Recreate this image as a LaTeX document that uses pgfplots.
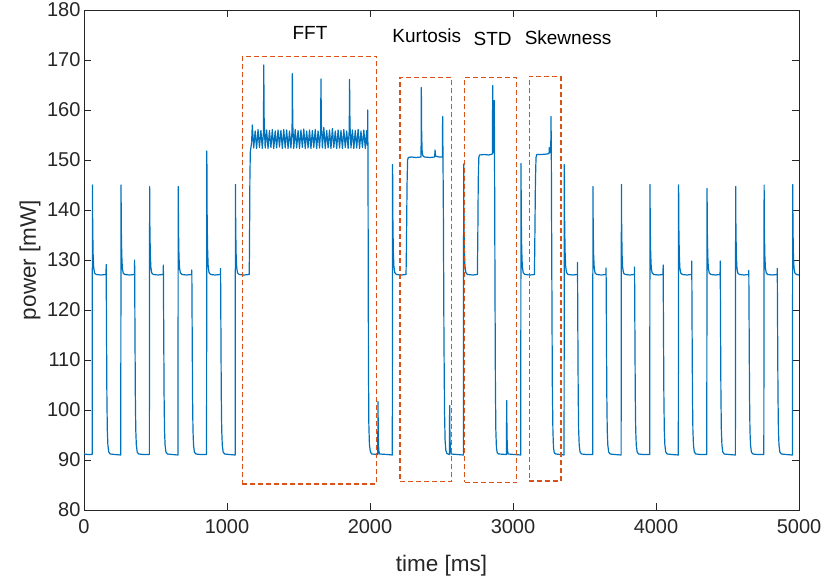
\documentclass[border=0pt]{standalone}
\usepackage{fontspec}
\setmainfont{Liberation Sans}
\usepackage{pgfplots}
\pgfplotsset{compat=1.18}
\definecolor{mblue}{HTML}{0072BD}
\definecolor{mred}{HTML}{D95319}
\definecolor{axgray}{HTML}{262626}
\begin{document}
\begin{tikzpicture}[x=1pt,y=1pt]
\useasboundingbox (0,0) rectangle (824,585);
\begin{axis}[
  at={(84pt,75pt)}, anchor=south west,
  scale only axis, width=715pt, height=500pt,
  xmin=0, xmax=5000, ymin=80, ymax=180,
  xtick={0,1000,...,5000}, ytick={80,90,...,180},
  tick align=inside, major tick length=7pt,
  axis line style={axgray, line width=0.8pt},
  tick style={axgray, line width=0.8pt},
  ticklabel style={font=\fontsize{20}{24}\selectfont, text=axgray},
  xticklabel style={yshift=-6pt},
  /pgf/number format/assume math mode=true,
  /pgf/number format/1000 sep={},
  xlabel={time [ms]}, ylabel={power [mW]},
  label style={font=\fontsize{22.5}{26}\selectfont, text=axgray},
  xlabel style={at={(axis description cs:0.5,-0.112)}, anchor=center},
  ylabel style={at={(axis description cs:-0.0755,0.5)}, anchor=center},
  clip=false,
]
\addplot[mblue, line width=1.2pt, line join=round] coordinates {
(0,91.2) (30,91.1)
(57,91.1) (59,145.0) (61,136.0) (64,131.0) (68,128.4) (74,127.4) (85,127.1) (117,127.0) (154,127.1) (155,129.1) (157,118) (160,103) (163,96) (167,93) (173,91.6) (183,91.2) (215,91.1)
(257,91.0) (259,145.0) (261,136.0) (264,131.0) (268,128.4) (274,127.4) (285,127.1) (317,127.0) (353,127.1) (354,130.0) (356,118) (359,103) (362,96) (366,93) (372,91.6) (382,91.2) (414,91.1)
(457,91.1) (459,144.7) (461,135.9) (464,130.9) (468,128.4) (474,127.4) (485,127.1) (517,127.0) (554,127.1) (555,129.0) (557,118) (560,103) (563,96) (567,93) (573,91.6) (583,91.2) (615,91.1)
(657,91.0) (659,144.7) (661,135.9) (664,130.9) (668,128.4) (674,127.4) (685,127.1) (717,127.0) (753,127.1) (754,128.0) (756,118) (759,103) (762,96) (766,93) (772,91.6) (782,91.2) (814,91.1)
(857,91.1) (859,151.8) (861,139.4) (864,132.5) (868,129.0) (874,127.5) (885,127.1) (917,127.0) (954,127.1) (955,128.3) (957,118) (960,103) (963,96) (967,93) (973,91.6) (983,91.2) (1015,91.1)
(1057,91.0) (1059,145.1) (1061,136.1) (1064,131.0) (1068,128.4) (1074,127.4) (1085,127.1) (1117,127.0) (1155,127.1)
(1157,131) (1160,146) (1163,151.6) (1168,152.6) (1172,153.5)
(1177,157.0) (1187,152.4) (1197,155.8) (1207,152.3) (1217,156.1) (1227,152.5) (1237,155.9) (1247,152.3)
(1255,155.6) (1257,169.0) (1260,157.5) (1267,152.4)
(1277,156.0) (1287,152.3) (1297,155.9) (1307,152.5) (1317,156.1) (1327,152.3) (1337,155.8) (1347,152.4)
(1357,156.0) (1367,152.6) (1377,155.9) (1387,152.3) (1397,156.1) (1407,152.4) (1417,156.0) (1427,152.3)
(1437,155.8) (1447,152.4)
(1455,155.9) (1457,167.3) (1460,157.0) (1467,152.3)
(1477,156.1) (1487,152.4) (1497,155.9) (1507,152.3) (1517,156.0) (1527,152.5) (1537,156.2) (1547,152.3)
(1557,155.8) (1567,152.4) (1577,156.0) (1587,152.3) (1597,155.9) (1607,152.5) (1617,156.1) (1627,152.3)
(1637,155.8) (1647,152.4)
(1655,155.8) (1657,166.2) (1660,157.0) (1667,152.4)
(1677,156.5) (1687,152.3) (1697,155.9) (1707,152.4) (1717,156.0) (1727,152.3) (1737,156.3) (1747,152.5)
(1757,155.8) (1767,152.3) (1777,156.0) (1787,152.4) (1797,155.9) (1807,152.3) (1817,156.1) (1827,152.5)
(1837,155.8) (1847,152.3)
(1855,156.0) (1857,166.1) (1860,157.0) (1867,152.4)
(1877,156.0) (1887,152.3) (1897,155.9) (1907,152.4) (1917,156.1) (1927,152.3) (1937,155.8) (1947,152.5)
(1957,156.0) (1967,152.3) (1977,155.9) (1981,153.0)
(1983,153.5) (1984,160.0) (1986,150) (1989,110) (1992,97) (1996,93) (2003,91.6) (2012,91.2)
(2054,91.1) (2056,101.7) (2058,95) (2061,92) (2066,91.2) (2120,91.1)
(2156,91.0) (2158,149.1) (2160,138.1) (2163,131.9) (2167,128.8) (2173,127.5) (2184,127.1) (2220,127.0) (2252,127.1)
(2255,133) (2259,145) (2263,150) (2268,150.5) (2290,150.6) (2320,150.5) (2357,150.6) (2359,164.5) (2361,156) (2364,152) (2369,150.9)
(2380,150.6) (2420,150.5) (2452,150.6) (2455,152.0) (2458,150.8) (2480,150.6) (2506,150.6) (2508,158.7) (2510,152)
(2513,140) (2517,115) (2521,100) (2525,94) (2530,92) (2537,91.3)
(2555,91.1) (2557,100.9) (2559,95) (2562,92) (2567,91.2) (2610,91.1)
(2653,91.0) (2655,149.2) (2657,138.1) (2660,131.9) (2664,128.8) (2670,127.5) (2681,127.1) (2720,127.0) (2751,127.1)
(2754,135) (2757,146) (2761,150.5) (2766,151.0) (2800,151.1) (2830,151.0) (2856,151.2) (2858,164.9) (2861,153) (2866,151.5)
(2868,151.6) (2869,161.9) (2871,150) (2874,125) (2877,105) (2880,96) (2884,92.5) (2890,91.4) (2900,91.2)
(2954,91.1) (2956,101.9) (2958,95) (2961,92) (2966,91.2) (3010,91.1)
(3054,91.0) (3056,149.3) (3058,138.2) (3061,131.9) (3065,128.8) (3071,127.5) (3082,127.1) (3120,127.0) (3150,127.1)
(3153,135) (3157,146) (3161,150.5) (3166,151.1) (3200,151.1) (3240,151.2) (3252,151.3) (3254,152.5) (3257,151.5)
(3264,151.6) (3266,158.7) (3268,151) (3271,130) (3275,105) (3279,96) (3283,92.5) (3289,91.4) (3300,91.2) (3330,91.1)
(3357,91.0) (3359,149.1) (3361,138.1) (3364,131.9) (3368,128.8) (3374,127.5) (3385,127.1) (3417,127.0) (3450,127.1) (3451,129.5) (3453,118) (3456,103) (3459,96) (3463,93) (3469,91.6) (3479,91.2) (3511,91.1)
(3557,91.1) (3559,144.7) (3561,135.9) (3564,130.9) (3568,128.4) (3574,127.4) (3585,127.1) (3617,127.0) (3650,127.1) (3651,128.4) (3653,118) (3656,103) (3659,96) (3663,93) (3669,91.6) (3679,91.2) (3711,91.1)
(3756,91.0) (3758,145.1) (3760,136.1) (3763,131.0) (3767,128.4) (3773,127.4) (3784,127.1) (3816,127.0) (3849,127.1) (3850,128.6) (3852,118) (3855,103) (3858,96) (3862,93) (3868,91.6) (3878,91.2) (3910,91.1)
(3956,91.1) (3958,145.1) (3960,136.1) (3963,131.0) (3967,128.4) (3973,127.4) (3984,127.1) (4016,127.0) (4049,127.1) (4050,129.0) (4052,118) (4055,103) (4058,96) (4062,93) (4068,91.6) (4078,91.2) (4110,91.1)
(4156,91.0) (4158,145.0) (4160,136.0) (4163,131.0) (4167,128.4) (4173,127.4) (4184,127.1) (4216,127.0) (4249,127.1) (4250,129.8) (4252,118) (4255,103) (4258,96) (4262,93) (4268,91.6) (4278,91.2) (4310,91.1)
(4355,91.1) (4357,144.3) (4359,135.7) (4362,130.8) (4366,128.4) (4372,127.4) (4383,127.1) (4415,127.0) (4448,127.1) (4449,129.8) (4451,118) (4454,103) (4457,96) (4461,93) (4467,91.6) (4477,91.2) (4509,91.1)
(4555,91.0) (4557,144.7) (4559,135.9) (4562,130.9) (4566,128.4) (4572,127.4) (4583,127.1) (4615,127.0) (4648,127.1) (4649,127.9) (4651,118) (4654,103) (4657,96) (4661,93) (4667,91.6) (4677,91.2) (4709,91.1)
(4754,91.1) (4756,145.0) (4758,136.0) (4761,131.0) (4765,128.4) (4771,127.4) (4782,127.1) (4814,127.0) (4847,127.1) (4848,128.3) (4850,118) (4853,103) (4856,96) (4860,93) (4866,91.6) (4876,91.2) (4908,91.1)
(4954,91.0) (4956,145.1) (4958,136.1) (4961,131.0) (4965,128.4) (4971,127.4) (4982,127.1) (5000,127.0)
};
\addplot[mred, line width=1.3pt, dash pattern=on 5pt off 3pt] coordinates {(1107,85.2) (2047,85.2) (2047,170.7) (1107,170.7) (1107,85.2)};
\addplot[mred, line width=1.3pt, dash pattern=on 5pt off 3pt] coordinates {(2210,85.7) (2571,85.7) (2571,166.5) (2210,166.5) (2210,85.7)};
\addplot[mred, line width=1.3pt, dash pattern=on 5pt off 3pt] coordinates {(2662,85.5) (3026,85.5) (3026,166.5) (2662,166.5) (2662,85.5)};
\addplot[mred, line width=1.3pt, dash pattern=on 5pt off 3pt] coordinates {(3114,85.8) (3336,85.8) (3336,166.7) (3114,166.7) (3114,85.8)};
\node[font=\fontsize{19}{22}\selectfont] at (axis cs:1580,175.4) {FFT};
\node[font=\fontsize{19}{22}\selectfont] at (axis cs:2397,174.8) {Kurtosis};
\node[font=\fontsize{19}{22}\selectfont] at (axis cs:2858,174.3) {STD};
\node[font=\fontsize{19}{22}\selectfont] at (axis cs:3385,174.4) {Skewness};
\end{axis}
\end{tikzpicture}
\end{document}
